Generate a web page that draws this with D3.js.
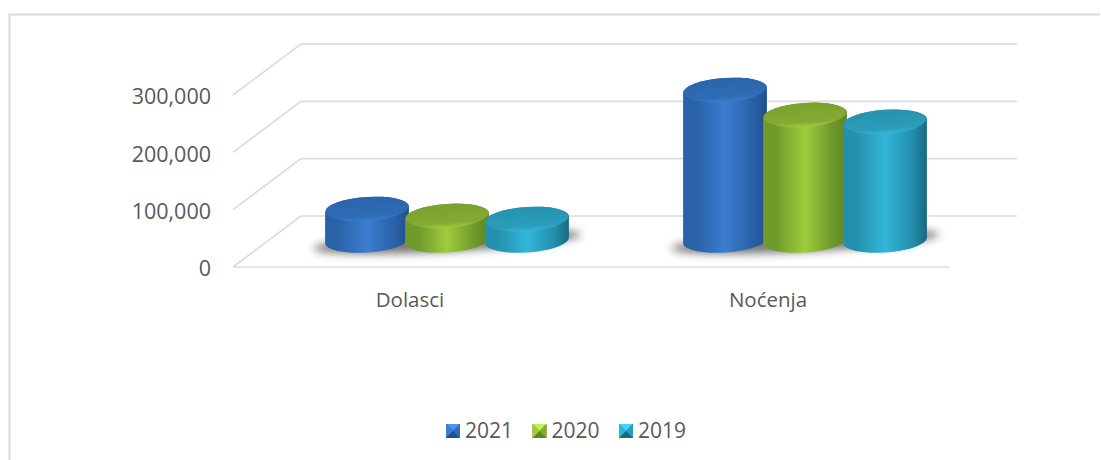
<!DOCTYPE html>
<html>
<head>
<meta charset="utf-8">
<script src="https://cdn.jsdelivr.net/npm/d3@7"></script>
<style>
html, body { margin: 0; padding: 0; background: #fff; }
svg { display: block; }
text { font-family: "Open Sans", sans-serif; fill: #595959; }
</style>
</head>
<body>
<div id="chart"></div>
<script>
// data
const categories = ["Dolasci", "Noćenja"];
const years = ["2021", "2020", "2019"];
const values2021 = [55000, 262500];
const values2020 = [43000, 219000];
const values2019 = [37500, 207000];
const yTicks = [0, 100000, 200000, 300000];

const seriesValues = [values2021, values2020, values2019];
const seriesColors = [
  { edge: "#2a62a8", dark: "#1f4f8c", mid: "#3b7dd0", top: "#2f6cb5", top2: "#2b64aa" },
  { edge: "#6f9a2c", dark: "#5f8424", mid: "#a0cc3e", top: "#86ab34", top2: "#7aa02e" },
  { edge: "#2590ae", dark: "#17697f", mid: "#33b5d8", top: "#2b9dba", top2: "#2592af" }
];

const width = 1101, height = 460;
const depthX = 68, depthY = 51;   // how far the back wall is shifted from the floor front
const rx = 42, ry = 12, tilt = -4;

const svg = d3.select("#chart").append("svg")
  .attr("width", width)
  .attr("height", height);

const defs = svg.append("defs");
defs.append("filter").attr("id", "blur")
  .attr("x", "-30%").attr("y", "-80%").attr("width", "160%").attr("height", "260%")
  .append("feGaussianBlur").attr("stdDeviation", 4);

seriesColors.forEach((c, i) => {
  const side = defs.append("linearGradient").attr("id", "side" + i);
  side.selectAll("stop")
    .data([[0, c.edge], [0.15, c.edge], [0.5, c.mid], [0.82, c.edge], [1, c.dark]])
    .join("stop")
    .attr("offset", d => d[0])
    .attr("stop-color", d => d[1]);
  const top = defs.append("linearGradient").attr("id", "top" + i)
    .attr("x1", 0).attr("y1", 0).attr("x2", 0).attr("y2", 1);
  top.selectAll("stop")
    .data([[0, c.top2], [0.8, c.top], [1, c.mid]])
    .join("stop")
    .attr("offset", d => d[0])
    .attr("stop-color", d => d[1]);
});

// scales, on the front edge of the floor
const y = d3.scaleLinear().domain([0, 300000]).range([267, 95]);
const x0 = d3.scaleBand().domain(categories).range([233, 949]);
const x1 = d3.scaleBand().domain(years).range([0, 240]);

// frame
svg.append("path")
  .attr("d", d3.line()([[9.5, height], [9.5, 14.5], [1100, 14.5]]))
  .attr("fill", "none")
  .attr("stroke", "#d9d9d9")
  .attr("stroke-width", 2);

// gridlines: wall lines and the diagonal on the side wall
const grid = svg.append("g").attr("fill", "none").attr("stroke", "#dcdcdc").attr("stroke-width", 1.7);
yTicks.forEach(t => {
  grid.append("path").attr("d", d3.line()([
    [x0.range()[0], y(t)],
    [x0.range()[0] + depthX, y(t) - depthY],
    [x0.range()[1] + depthX, y(t) - depthY]
  ]));
});
grid.append("line")
  .attr("x1", x0.range()[0]).attr("x2", x0.range()[1])
  .attr("y1", y(0)).attr("y2", y(0));

// y axis labels
const yAxis = d3.axisLeft(y)
  .tickValues(yTicks)
  .tickFormat(d3.format(","))
  .tickSize(0)
  .tickPadding(22);
const yG = svg.append("g").attr("transform", `translate(233,2)`).call(yAxis);
yG.select(".domain").remove();
yG.selectAll("text").style("font-size", "21.5px");

// x axis labels
const xAxis = d3.axisBottom(x0).tickSize(0).tickPadding(25);
const xG = svg.append("g").attr("transform", `translate(-2,${y(0)})`).call(xAxis);
xG.select(".domain").remove();
xG.selectAll("text").style("font-size", "20.5px");

// cylinders stand half way into the floor depth
const cos = Math.cos(tilt * Math.PI / 180), sin = Math.sin(tilt * Math.PI / 180);

categories.forEach((cat, ci) => {
  const g = svg.append("g");
  const cx0 = x0(cat) + x0.bandwidth() / 2 + depthX / 2 + 1;
  const base = y(0) - 26.5;
  const left = cx0 - x1.range()[1] / 2;

  // shadow under the whole group
  g.append("ellipse")
    .attr("transform", `translate(${cx0},${base + 1}) rotate(-3)`)
    .attr("rx", x1.range()[1] / 2 + 14).attr("ry", 10)
    .attr("fill", "#555")
    .attr("opacity", 0.8)
    .attr("filter", "url(#blur)");

  years.forEach((yr, si) => {
    const cx = left + x1(yr) + x1.bandwidth() / 2;
    const h = y(0) - y(seriesValues[si][ci]);
    const topY = base - h;
    const dx = rx * cos, dy = rx * sin;
    const d = `M${cx - dx},${topY - dy}` +
      `L${cx - dx},${base - dy}` +
      `A${rx},${ry} ${tilt} 0 0 ${cx + dx},${base + dy}` +
      `L${cx + dx},${topY + dy}` +
      `A${rx},${ry} ${tilt} 0 0 ${cx - dx},${topY - dy}Z`;
    g.append("path").attr("d", d).attr("fill", `url(#side${si})`);
    g.append("ellipse")
      .attr("transform", `translate(${cx},${topY}) rotate(${tilt})`)
      .attr("rx", rx - 0.5).attr("ry", ry)
      .attr("fill", `url(#top${si})`);
  });
});

// legend with bevelled swatches
const legendX = d3.scalePoint().domain(years).range([446, 619]);
years.forEach((yr, si) => {
  const c = seriesColors[si];
  const item = svg.append("g").attr("transform", `translate(${legendX(yr)},424)`);
  const s = 14, m = 7;
  item.append("rect").attr("width", s).attr("height", s).attr("fill", c.dark);
  item.append("path").attr("d", `M0,0L${s},0L${m},${m}Z`).attr("fill", d3.color(c.mid).brighter(0.5));
  item.append("path").attr("d", `M0,0L${m},${m}L0,${s}Z`).attr("fill", c.mid);
  item.append("path").attr("d", `M${s},0L${m},${m}L${s},${s}Z`).attr("fill", c.top);
  item.append("text")
    .attr("x", 19).attr("y", 6)
    .attr("dy", "0.36em")
    .style("font-size", "21px")
    .text(yr);
});
</script>
</body>
</html>
